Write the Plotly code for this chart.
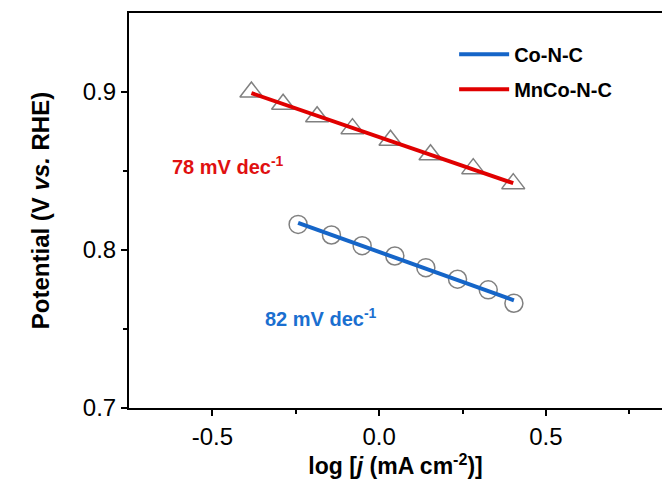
import numpy as np
import plotly.graph_objects as go

# Data
mnco_x = [-0.383, -0.288, -0.186, -0.080, 0.034, 0.154, 0.282, 0.402]
mnco_y = [0.900, 0.8922, 0.8843, 0.8768, 0.8695, 0.8603, 0.8515, 0.842]
co_x = [-0.243, -0.143, -0.051, 0.047, 0.140, 0.235, 0.327, 0.404]
co_y = [0.8162, 0.8095, 0.8027, 0.7962, 0.7888, 0.7815, 0.7748, 0.7663]
names = ["Co-N-C", "MnCo-N-C"]
slope_labels = ["82 mV dec<sup>-1</sup>", "78 mV dec<sup>-1</sup>"]
x_ticks = [-0.5, 0.0, 0.5]
x_labels = ["-0.5", "0.0", "0.5"]
y_ticks = [0.7, 0.8, 0.9]
y_labels = ["0.7", "0.8", "0.9"]

FONT = "Arial, Liberation Sans, sans-serif"
RED = "#e00000"
BLUE = "#1565c8"
GRAY = "#808080"

def fit(x, y):
    k, b = np.polyfit(x, y, 1)
    xs = np.array([min(x), max(x)])
    return xs, k * xs + b

fig = go.Figure()
fig.add_trace(go.Scatter(x=mnco_x, y=mnco_y, mode="markers", showlegend=False,
                         marker=dict(symbol="triangle-up-open", size=20, color=GRAY,
                                     line=dict(width=1.5, color=GRAY))))
fig.add_trace(go.Scatter(x=co_x, y=co_y, mode="markers", showlegend=False,
                         marker=dict(symbol="circle-open", size=18, color=GRAY,
                                     line=dict(width=1.5, color=GRAY))))
fx, fy = fit(co_x, co_y)
fig.add_trace(go.Scatter(x=fx, y=fy, mode="lines", name=names[0], legendgroup="a",
                         line=dict(color=BLUE, width=4)))
fx, fy = fit(mnco_x, mnco_y)
fig.add_trace(go.Scatter(x=fx, y=fy, mode="lines", name=names[1], legendgroup="b",
                         line=dict(color=RED, width=4)))

fig.add_annotation(x=-0.628, y=0.8537, xref="x", yref="y", text="<b>" + slope_labels[1] + "</b>",
                   showarrow=False, xanchor="left", yanchor="middle",
                   font=dict(family=FONT, size=20, color="#e01010"))
fig.add_annotation(x=-0.349, y=0.757, xref="x", yref="y", text="<b>" + slope_labels[0] + "</b>",
                   showarrow=False, xanchor="left", yanchor="middle",
                   font=dict(family=FONT, size=20, color="#1a6fd0"))

fig.update_layout(
    width=662, height=490,
    margin=dict(l=129, r=0, t=13, b=82, pad=0),
    paper_bgcolor="white", plot_bgcolor="white",
    font=dict(family=FONT, size=20, color="black"),
    legend=dict(x=0.61, y=0.945, xanchor="left", yanchor="top", traceorder="grouped",
                bgcolor="rgba(0,0,0,0)", font=dict(family=FONT, size=20, color="black", weight="bold"),
                tracegroupgap=6, itemwidth=50),
    xaxis=dict(range=[-0.75, 0.848], tickvals=x_ticks, ticktext=x_labels,
               showgrid=False, zeroline=False, showline=True, linecolor="black", linewidth=2,
               mirror=True, ticks="outside", ticklen=6, tickwidth=1.5, tickcolor="black",
               minor=dict(tickvals=[-0.25, 0.25, 0.75], ticks="outside", ticklen=4, tickwidth=1.5, tickcolor="black"),
               tickfont=dict(size=24),
               title=dict(text="<b>log [<i>j</i> (mA cm<sup>-2</sup>)]</b>", font=dict(size=23), standoff=6)),
    yaxis=dict(range=[0.7, 0.95], tickvals=y_ticks, ticktext=y_labels,
               showgrid=False, zeroline=False, showline=True, linecolor="black", linewidth=2,
               ticks="outside", ticklen=6, tickwidth=1.5, tickcolor="black",
               minor=dict(tickvals=[0.75, 0.85], ticks="outside", ticklen=4, tickwidth=1.5, tickcolor="black"),
               tickfont=dict(size=24),
               title=dict(text="<b>Potential (V <i>vs.</i> RHE)</b>", font=dict(size=24), standoff=26)),
)

fig.write_html("out.html")
